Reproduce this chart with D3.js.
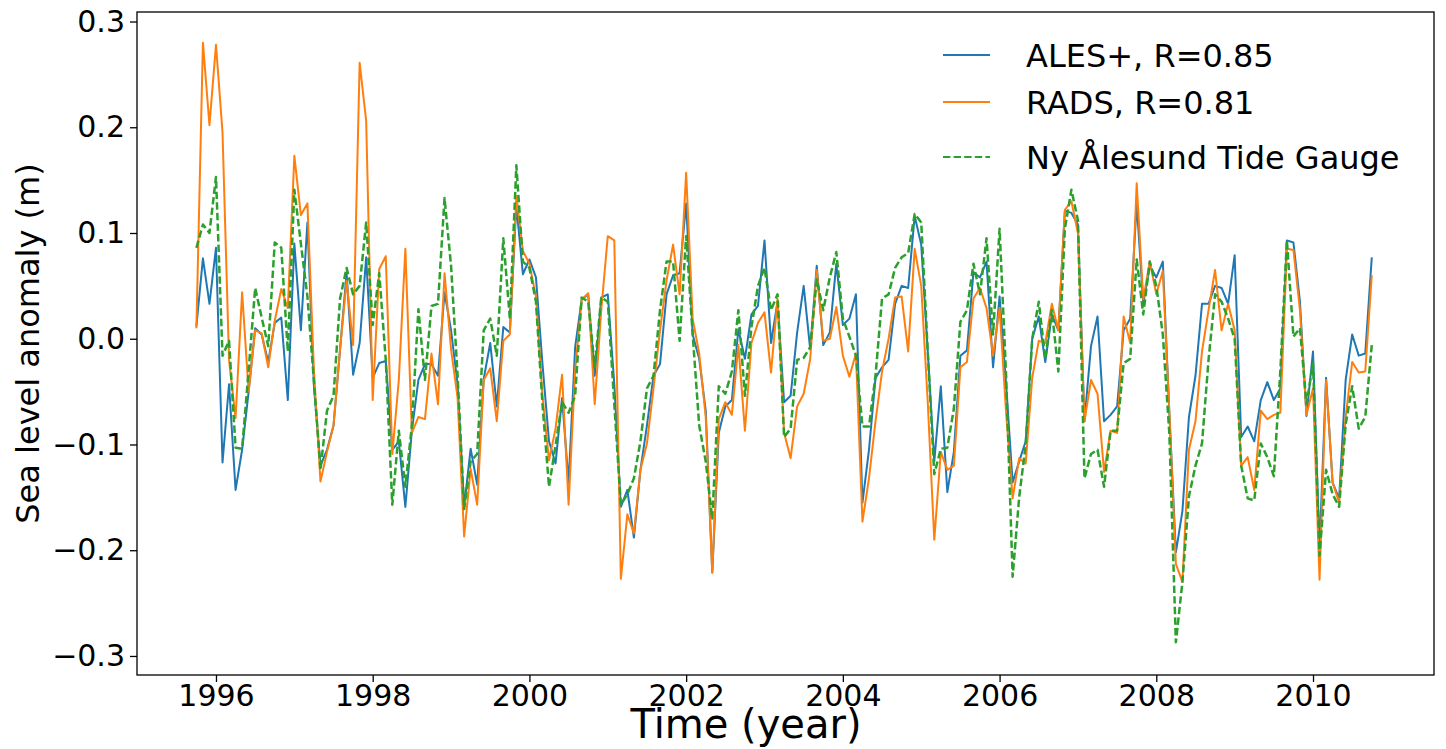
<!DOCTYPE html>
<html>
<head>
<meta charset="utf-8">
<script src="https://cdn.jsdelivr.net/npm/d3@7"></script>
<style>
  body { margin: 0; background: #fff; }
  text { font-family: "DejaVu Sans", sans-serif; fill: #000; }
</style>
</head>
<body>
<script>
// Monthly series, first month Oct 1995, last month Oct 2010
var startYear = 1995;
var startMonth = 10;

var alesPlus = [
  0.012, 0.076, 0.033, 0.086, -0.117, -0.043, -0.143, -0.105, -0.050, 0.010,
  0.004, -0.022, 0.015, 0.020, -0.058, 0.090, 0.008, 0.110, -0.045, -0.120,
  -0.105, -0.082, -0.010, 0.062, -0.034, -0.004, 0.077, -0.037, -0.023, -0.021,
  -0.105, -0.097, -0.159, -0.087, -0.039, -0.024, -0.024, -0.035, 0.044, 0.008,
  -0.043, -0.159, -0.104, -0.138, -0.038, -0.004, -0.064, 0.011, 0.006, 0.126,
  0.061, 0.075, 0.058, -0.024, -0.097, -0.118, -0.056, -0.136, -0.008, 0.037,
  0.042, -0.035, 0.039, 0.042, -0.043, -0.159, -0.143, -0.188, -0.124, -0.082,
  -0.035, -0.024, 0.042, 0.060, 0.062, 0.128, 0.004, -0.019, -0.068, -0.221,
  -0.089, -0.064, -0.058, 0.009, -0.019, 0.023, 0.031, 0.093, -0.004, 0.035,
  -0.060, -0.054, 0.006, 0.050, -0.010, 0.069, -0.006, 0.006, 0.071, 0.013,
  0.019, 0.042, -0.155, -0.105, -0.037, -0.027, -0.020, 0.033, 0.050, 0.048,
  0.116, 0.089, -0.012, -0.116, -0.045, -0.145, -0.107, -0.016, -0.011, 0.063,
  0.058, 0.073, -0.027, 0.040, -0.043, -0.136, -0.116, -0.097, 0.000, 0.021,
  -0.022, 0.023, 0.008, 0.121, 0.119, 0.108, -0.078, -0.007, 0.021, -0.078,
  -0.072, -0.064, 0.008, 0.019, 0.128, 0.033, 0.069, 0.058, 0.073, -0.070,
  -0.202, -0.163, -0.074, -0.035, 0.033, 0.033, 0.050, 0.048, 0.033, 0.079,
  -0.093, -0.083, -0.097, -0.058, -0.041, -0.058, -0.047, 0.093, 0.091, 0.035,
  -0.073, -0.012, -0.198, -0.037, -0.136, -0.151, -0.039, 0.004, -0.016, -0.014,
  0.077
];

var rads = [
  0.010, 0.280, 0.202, 0.278, 0.195, -0.020, -0.075, 0.044, -0.050, 0.008,
  0.005, -0.027, 0.017, 0.047, 0.029, 0.173, 0.117, 0.128, -0.030, -0.135,
  -0.107, -0.082, -0.010, 0.055, -0.006, 0.261, 0.206, -0.058, 0.066, 0.078,
  -0.109, -0.039, 0.085, -0.089, -0.074, -0.076, -0.014, -0.062, 0.062, -0.010,
  -0.056, -0.187, -0.123, -0.157, -0.039, -0.028, -0.078, -0.002, 0.004, 0.135,
  0.083, 0.071, 0.040, -0.054, -0.115, -0.085, -0.034, -0.157, -0.030, 0.037,
  0.043, -0.062, 0.027, 0.097, 0.093, -0.227, -0.166, -0.184, -0.124, -0.099,
  -0.047, 0.008, 0.055, 0.089, 0.042, 0.157, 0.019, -0.014, -0.074, -0.221,
  -0.076, -0.060, -0.072, -0.006, -0.087, -0.004, 0.015, 0.025, -0.032, 0.038,
  -0.089, -0.113, -0.064, -0.052, -0.019, 0.065, -0.002, 0.000, 0.030, -0.016,
  -0.036, -0.014, -0.173, -0.132, -0.078, -0.031, 0.000, 0.039, 0.040, -0.012,
  0.085, 0.050, -0.060, -0.190, -0.107, -0.124, -0.120, -0.027, -0.022, 0.038,
  0.048, 0.029, -0.016, 0.029, -0.070, -0.151, -0.113, -0.118, -0.037, -0.002,
  -0.004, 0.033, 0.008, 0.122, 0.130, 0.100, -0.078, -0.039, -0.052, -0.126,
  -0.087, -0.089, 0.021, -0.004, 0.147, 0.037, 0.073, 0.042, 0.064, -0.070,
  -0.213, -0.230, -0.105, -0.078, -0.012, 0.027, 0.065, 0.008, 0.033, 0.008,
  -0.120, -0.112, -0.143, -0.068, -0.076, -0.072, -0.070, 0.085, 0.084, 0.027,
  -0.072, -0.047, -0.228, -0.039, -0.136, -0.155, -0.074, -0.022, -0.032, -0.031,
  0.060
];

var tideGauge = [
  0.086, 0.108, 0.100, 0.153, -0.016, -0.002, -0.103, -0.104, -0.030, 0.048,
  0.020, -0.007, 0.091, 0.086, -0.012, 0.141, 0.090, 0.040, -0.040, -0.124,
  -0.068, -0.054, 0.038, 0.067, 0.042, 0.050, 0.110, 0.013, 0.062, -0.020,
  -0.157, -0.087, -0.140, -0.082, 0.028, -0.039, 0.031, 0.033, 0.133, 0.069,
  -0.035, -0.161, -0.116, -0.109, 0.008, 0.019, -0.016, 0.095, 0.019, 0.164,
  0.073, 0.067, 0.035, -0.062, -0.140, -0.101, -0.060, -0.070, -0.054, 0.039,
  0.035, -0.027, 0.039, 0.035, -0.062, -0.157, -0.147, -0.132, -0.097, -0.047,
  -0.035, 0.027, 0.073, 0.073, -0.002, 0.097, 0.004, -0.082, -0.116, -0.170,
  -0.045, -0.052, -0.031, 0.027, -0.054, 0.011, 0.050, 0.067, 0.027, 0.042,
  -0.093, -0.085, -0.020, -0.018, -0.008, 0.056, 0.027, 0.058, 0.082, 0.019,
  0.002, -0.016, -0.083, -0.083, -0.035, 0.038, 0.042, 0.067, 0.077, 0.081,
  0.118, 0.110, -0.012, -0.128, -0.104, -0.103, -0.066, 0.016, 0.027, 0.071,
  0.042, 0.095, 0.004, 0.104, -0.035, -0.225, -0.150, -0.100, 0.000, 0.035,
  -0.019, 0.027, -0.031, 0.104, 0.141, 0.112, -0.132, -0.109, -0.105, -0.140,
  -0.087, -0.087, -0.023, -0.019, 0.075, 0.023, 0.073, 0.050, 0.004, -0.090,
  -0.287, -0.230, -0.149, -0.120, -0.099, -0.020, 0.042, 0.035, 0.019, 0.000,
  -0.120, -0.151, -0.153, -0.099, -0.112, -0.130, -0.030, 0.093, 0.002, 0.010,
  -0.062, -0.023, -0.205, -0.124, -0.147, -0.159, -0.081, -0.045, -0.085, -0.074,
  -0.006
];

var xTicks = [1996, 1998, 2000, 2002, 2004, 2006, 2008, 2010];
var yTicks = [-0.3, -0.2, -0.1, 0.0, 0.1, 0.2, 0.3];
var seriesNames = ["ALES+, R=0.85", "RADS, R=0.81", "Ny \u00C5lesund Tide Gauge"];

// figure size and axes box
var svgWidth = 1446;
var svgHeight = 749;
var margin = { top: 12, right: 12, bottom: 74, left: 137 };
var chartWidth = svgWidth - margin.left - margin.right;
var chartHeight = svgHeight - margin.top - margin.bottom;

var svg = d3.select("body")
    .append("svg")
    .attr("width", svgWidth)
    .attr("height", svgHeight);

var chartGroup = svg.append("g")
    .attr("transform", `translate(${margin.left}, ${margin.top})`);

// decimal year of each monthly sample
var times = alesPlus.map((d, i) => startYear + (startMonth - 1 + i) / 12);

var xScale = d3.scaleLinear()
    .domain([1994.992, 2011.544])
    .range([0, chartWidth]);

var yScale = d3.scaleLinear()
    .domain([-0.318, 0.309])
    .range([chartHeight, 0]);

// axes
var xAxis = d3.axisBottom(xScale)
    .tickValues(xTicks)
    .tickFormat(d3.format("d"))
    .tickSize(7)
    .tickPadding(3);
var yAxis = d3.axisLeft(yScale)
    .tickValues(yTicks)
    .tickFormat(d3.format(".1f"))
    .tickSize(7)
    .tickPadding(5);

var gx = chartGroup.append("g")
    .attr("transform", `translate(0, ${chartHeight})`)
    .call(xAxis);
var gy = chartGroup.append("g")
    .call(yAxis);

[gx, gy].forEach(function (g) {
    g.select(".domain").remove();
    g.selectAll(".tick line").attr("stroke", "#000").attr("stroke-width", 1.3);
    g.selectAll(".tick text")
        .style("font-size", "30px")
        .style("font-family", "'DejaVu Sans', sans-serif")
        .attr("fill", "#000");
});

// frame
chartGroup.append("rect")
    .attr("width", chartWidth)
    .attr("height", chartHeight)
    .attr("fill", "none")
    .attr("stroke", "#000")
    .attr("stroke-width", 1.3);

// lines
var line = d3.line()
    .x((d, i) => xScale(times[i]))
    .y(d => yScale(d));

var series = [
    { values: alesPlus, color: "#1f77b4", dash: null, width: 2 },
    { values: rads, color: "#ff7f0e", dash: null, width: 2 },
    { values: tideGauge, color: "#2ca02c", dash: "7.4,3.2", width: 2.5 }
];

series.forEach(function (s) {
    chartGroup.append("path")
        .datum(s.values)
        .attr("fill", "none")
        .attr("stroke", s.color)
        .attr("stroke-width", s.width)
        .attr("stroke-dasharray", s.dash)
        .attr("stroke-linejoin", "round")
        .attr("d", line);
});

// axis labels
svg.append("text")
    .attr("x", 746)
    .attr("y", 738)
    .attr("text-anchor", "middle")
    .style("font-size", "40px")
    .text("Time (year)");

svg.append("text")
    .attr("transform", `translate(39, ${margin.top + chartHeight / 2}) rotate(-90)`)
    .attr("text-anchor", "middle")
    .style("font-size", "32px")
    .text("Sea level anomaly (m)");

// legend (no frame)
var legendRows = [55, 102, 157];
var legend = svg.append("g");
series.forEach(function (s, i) {
    legend.append("line")
        .attr("x1", 943)
        .attr("x2", 990)
        .attr("y1", legendRows[i])
        .attr("y2", legendRows[i])
        .attr("stroke", s.color)
        .attr("stroke-width", i === 2 ? 2.2 : 1.8)
        .attr("stroke-dasharray", s.dash);
    legend.append("text")
        .attr("x", 1026)
        .attr("y", legendRows[i])
        .attr("dy", "0.36em")
        .style("font-size", "32px")
        .text(seriesNames[i]);
});
</script>
</body>
</html>
